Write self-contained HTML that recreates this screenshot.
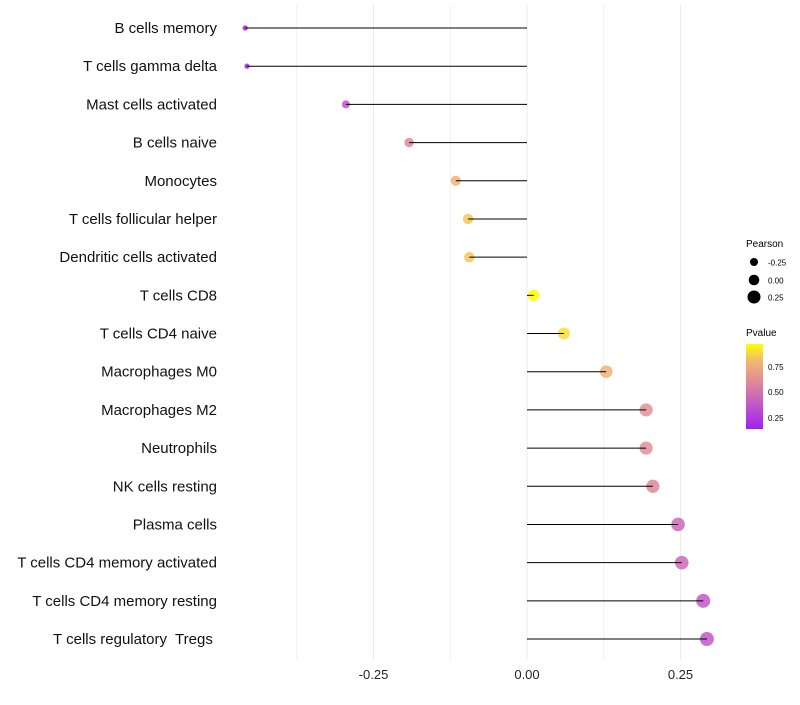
<!DOCTYPE html>
<html><head><meta charset="utf-8"><style>
body{margin:0;background:#fff;font-family:"Liberation Sans",sans-serif}
svg text{font-family:"Liberation Sans",sans-serif;white-space:pre}
</style></head><body>
<svg id="c" width="800" height="700">
<defs><linearGradient id="pg" x1="0" y1="1" x2="0" y2="0">
<stop offset="0" stop-color="#A020F0"/><stop offset="0.3" stop-color="#C45AC8"/><stop offset="0.55" stop-color="#E0889A"/><stop offset="0.8" stop-color="#F2B870"/><stop offset="1" stop-color="#FFFF00"/></linearGradient></defs>
<g id="grid"></g><g id="marks"></g><g id="labels"></g>
<g id="legend">
<text x="746" y="247" font-size="10">Pearson</text>
<circle cx="754" cy="262" r="4" fill="#000"/>
<text x="768" y="265.5" font-size="8">-0.25</text>
<circle cx="754" cy="280" r="5.3" fill="#000"/>
<text x="768" y="283.5" font-size="8">0.00</text>
<circle cx="754" cy="297" r="6.5" fill="#000"/>
<text x="768" y="300.5" font-size="8">0.25</text>
<text x="746" y="336" font-size="10">Pvalue</text>
<rect x="746" y="344" width="17" height="85" fill="url(#pg)"/>
<text x="768" y="370" font-size="8">0.75</text>
<text x="768" y="395" font-size="8">0.50</text>
<text x="768" y="421" font-size="8">0.25</text>
</g>
</svg>
<script>
const categories=["B cells memory","T cells gamma delta","Mast cells activated","B cells naive","Monocytes","T cells follicular helper","Dendritic cells activated","T cells CD8","T cells CD4 naive","Macrophages M0","Macrophages M2","Neutrophils","NK cells resting","Plasma cells","T cells CD4 memory activated","T cells CD4 memory resting","T cells regulatory  Tregs "];
const pearson=[-0.459,-0.456,-0.295,-0.192,-0.116,-0.096,-0.094,0.011,0.060,0.129,0.194,0.194,0.205,0.246,0.252,0.287,0.293];
const pvalues=[0.12,0.12,0.33,0.58,0.76,0.82,0.82,0.97,0.88,0.76,0.6,0.6,0.56,0.42,0.42,0.34,0.34];
const xTicks=[-0.25,0,0.25];
const xTickLabels=["-0.25","0.00","0.25"];
const NS="http://www.w3.org/2000/svg";
const x=v=>527+v*614;
const y=i=>28+i*38.19;
const r=v=>Math.sqrt(Math.max(2.25,32.5+56*v));
const stops=[[0.12,[160,32,240]],[0.35,[196,90,200]],[0.57,[224,136,154]],[0.78,[242,184,112]],[0.97,[255,255,0]]];
function col(p){if(p<=stops[0][0])return `rgb(${stops[0][1]})`;for(let k=1;k<stops.length;k++){if(p<=stops[k][0]){const t=(p-stops[k-1][0])/(stops[k][0]-stops[k-1][0]);const a=stops[k-1][1],b=stops[k][1];return `rgb(${a.map((c,j)=>Math.round(c+(b[j]-c)*t))})`;}}return "rgb(255,255,0)";}
function mk(t,a,parent){const e=document.createElementNS(NS,t);for(const k in a)e.setAttribute(k,a[k]);document.getElementById(parent).appendChild(e);return e;}
[-0.375,-0.25,-0.125,0,0.125,0.25].forEach(v=>{const g=mk("line",{x1:x(v),x2:x(v),y1:5,y2:660,stroke:"#ebebeb","stroke-width":Math.abs(v*8)%2===0?1:0.6},"grid");

});
xTicks.forEach((v,i)=>{const t=mk("text",{x:x(v),y:679,"font-size":13,"text-anchor":"middle",fill:"#222"},"labels");t.textContent=xTickLabels[i];

});
categories.forEach((c,i)=>{
const t=mk("text",{x:217,y:y(i)+5,"font-size":15,"text-anchor":"end",fill:"#111"},"labels");t.textContent=c;


const pt=mk("circle",{cx:x(pearson[i]),cy:y(i),r:r(pearson[i]),fill:col(pvalues[i]),"fill-opacity":0.85},"marks");


const ln=mk("line",{x1:x(0),x2:x(pearson[i]),y1:y(i),y2:y(i),stroke:"#000","stroke-width":1},"marks");


});
</script>
</body></html>
